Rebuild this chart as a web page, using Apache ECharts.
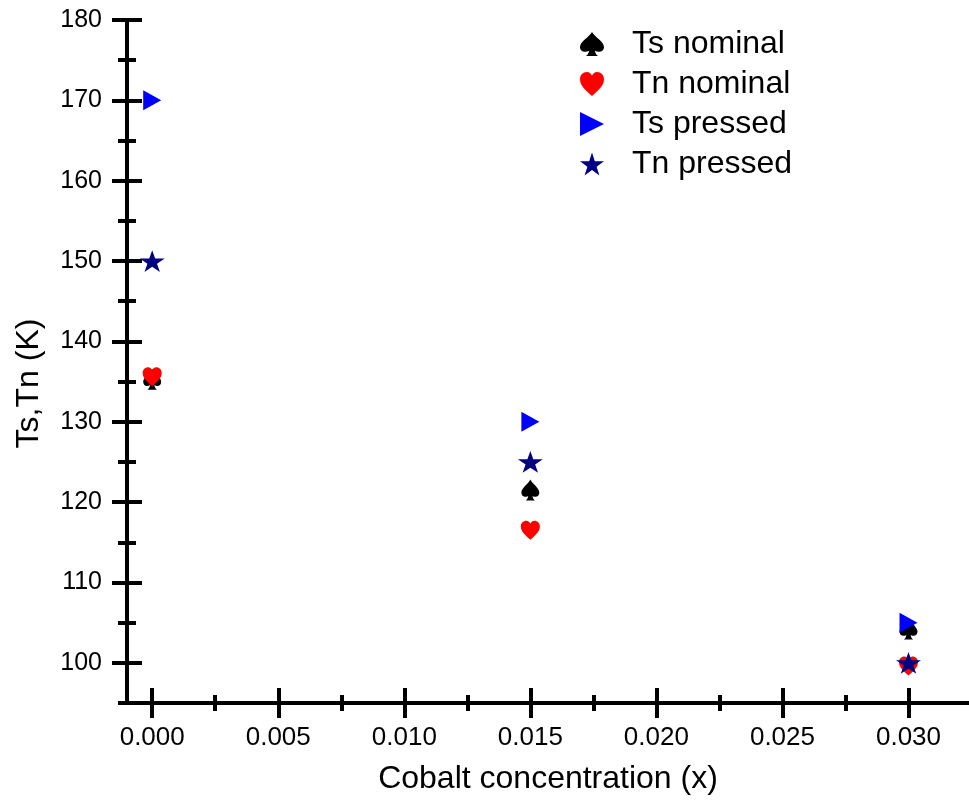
<!DOCTYPE html>
<html>
<head>
<meta charset="utf-8">
<script src="https://cdn.jsdelivr.net/npm/echarts@6/dist/echarts.min.js"></script>
<style>html,body{margin:0;padding:0;background:#fff}#c{width:969px;height:806px}</style>
</head>
<body>
<div id="c"></div>
<script>
const xValues = [0, 0.015, 0.030];
const tsNominal = [135.3, 121.5, 104.2];
const tnNominal = [135.6, 116.5, 99.6];
const tsPressed = [170, 130, 105];
const tnPressed = [150, 125, 100];
const xMajor = [0, 0.005, 0.010, 0.015, 0.020, 0.025, 0.030];
const xMinor = [0.0025, 0.0075, 0.0125, 0.0175, 0.0225, 0.0275];
const yMajor = [100, 110, 120, 130, 140, 150, 160, 170, 180];
const yMinor = [95, 105, 115, 125, 135, 145, 155, 165, 175];

const FONT = "'Liberation Sans', Arial, sans-serif";
const SPADE = 'path://M50,0 C60,20 100,40 100,62 C100,80 80,88 62,78 C64,88 68,96 76,100 L24,100 C32,96 36,88 38,78 C20,88 0,80 0,62 C0,40 40,20 50,0 Z';
const HEART = 'path://M50,100 C20,72 0,56 0,30 C0,12 13,0 28,0 C40,0 47,8 50,16 C53,8 60,0 72,0 C87,0 100,12 100,30 C100,56 80,72 50,100 Z';
const TRI = 'path://M0,0 L100,50 L0,100 Z';
const STAR = 'path://M50,0 L61.2,34.5 L97.6,34.5 L68.2,55.9 L79.4,90.5 L50,69.1 L20.6,90.5 L31.8,55.9 L2.4,34.5 L38.8,34.5 Z';

function pairs(ys) { return xValues.map((x, i) => [x, ys[i]]); }

const lineStyle = { color: '#000', width: 4 };
function xAxisDef(ticks, len, inside, main) {
  return {
    type: 'value', min: -0.001, max: 0.0324, position: 'bottom',
    axisLine: { show: main, onZero: false, lineStyle: lineStyle },
    axisTick: { show: true, customValues: ticks, length: len, inside: inside, lineStyle: { color: '#000', width: 4 } },
    axisLabel: main ? { show: true, customValues: xMajor, formatter: v => v.toFixed(3), fontSize: 26, fontFamily: FONT, color: '#000', margin: 22 } : { show: false },
    splitLine: { show: false },
    name: main ? 'Cobalt concentration (x)' : '',
    nameLocation: 'middle', nameGap: 60,
    nameTextStyle: { fontSize: 32, fontFamily: FONT, color: '#000' }
  };
}
function yAxisDef(ticks, len, inside, main) {
  return {
    type: 'value', min: 95, max: 180, position: 'left',
    axisLine: { show: main, onZero: false, lineStyle: lineStyle },
    axisTick: { show: true, customValues: ticks, length: len, inside: inside, lineStyle: { color: '#000', width: 4 } },
    axisLabel: main ? { show: true, customValues: yMajor, fontSize: 25, fontFamily: FONT, color: '#000', margin: 25 } : { show: false },
    splitLine: { show: false },
    name: main ? 'Ts,Tn (K)' : '',
    nameLocation: 'middle', nameGap: 82,
    nameTextStyle: { fontSize: 32, fontFamily: FONT, color: '#000', padding: [0, 44, 0, 0] }
  };
}

const chart = echarts.init(document.getElementById('c'), null, { renderer: 'canvas' });
chart.setOption({
  animation: false,
  backgroundColor: '#fff',
  grid: { left: 127, right: 0, top: 20, bottom: 103, containLabel: false, outerBoundsMode: 'none' },
  legend: {
    orient: 'vertical', left: 575, top: 23,
    itemWidth: 24, itemHeight: 24, itemGap: 8,
    textStyle: { fontSize: 32, fontFamily: FONT, color: '#000', lineHeight: 32, padding: [0, 0, 0, 23] },
    data: ['Ts nominal', 'Tn nominal', 'Ts pressed', 'Tn pressed']
  },
  xAxis: [
    xAxisDef(xMajor, 15, false, true),
    xAxisDef(xMajor, 15, true, false),
    xAxisDef(xMinor, 8, false, false),
    xAxisDef(xMinor, 8, true, false)
  ],
  yAxis: [
    yAxisDef(yMajor, 15, false, true),
    yAxisDef(yMajor, 15, true, false),
    yAxisDef(yMinor, 9, false, false),
    yAxisDef(yMinor, 9, true, false)
  ],
  series: [
    { name: 'Ts nominal', type: 'scatter', symbol: SPADE, symbolSize: [18, 21], symbolKeepAspect: true, itemStyle: { color: '#000000', opacity: 1 }, data: pairs(tsNominal), z: 3 },
    { name: 'Tn nominal', type: 'scatter', symbol: HEART, symbolSize: [19, 19], symbolKeepAspect: true, itemStyle: { color: '#ff0000', opacity: 1 }, data: pairs(tnNominal), z: 4 },
    { name: 'Ts pressed', type: 'scatter', symbol: TRI, symbolSize: [18, 20], symbolKeepAspect: true, itemStyle: { color: '#0000ff', opacity: 1 }, data: pairs(tsPressed), z: 5 },
    { name: 'Tn pressed', type: 'scatter', symbol: STAR, symbolSize: [25, 23], symbolKeepAspect: true, itemStyle: { color: '#000080', opacity: 1 }, data: pairs(tnPressed), z: 6 }
  ]
});
</script>
</body>
</html>
